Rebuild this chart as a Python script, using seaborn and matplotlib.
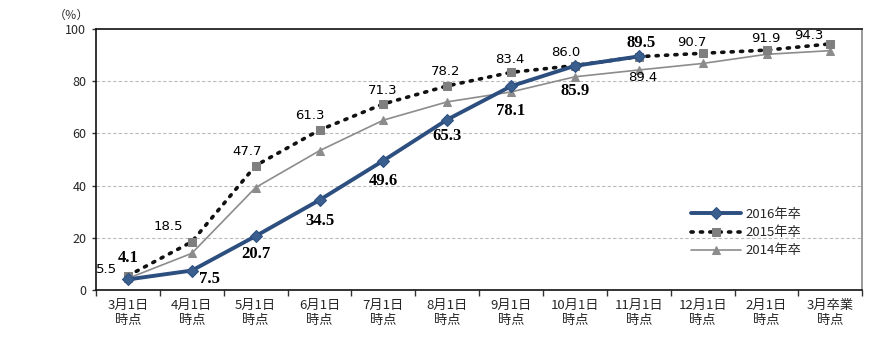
import matplotlib
matplotlib.use("Agg")
import matplotlib.pyplot as plt
import seaborn as sns
import pandas as pd
import numpy as np

categories = ["3月1日\n時点", "4月1日\n時点", "5月1日\n時点", "6月1日\n時点", "7月1日\n時点",
              "8月1日\n時点", "9月1日\n時点", "10月1日\n時点", "11月1日\n時点", "12月1日\n時点",
              "2月1日\n時点", "3月卒業\n時点"]
s2016 = [4.1, 7.5, 20.7, 34.5, 49.6, 65.3, 78.1, 85.9, 89.5]
s2015 = [5.5, 18.5, 47.7, 61.3, 71.3, 78.2, 83.4, 86.0, 89.4, 90.7, 91.9, 94.3]
s2014 = [4.5, 14.1, 39.3, 53.4, 65.1, 72.1, 75.9, 81.7, 84.3, 86.8, 90.3, 91.7]
yticks = [0, 20, 40, 60, 80, 100]

sns.set_theme(style="white")
plt.rcParams['font.family'] = ['Noto Sans CJK JP', 'DejaVu Sans']

fig = plt.figure(figsize=(8.89, 3.45), dpi=100)
ax = fig.add_axes([0.108, 0.159, 0.862, 0.757])

df14 = pd.DataFrame({"x": np.arange(len(s2014)), "v": s2014})
df15 = pd.DataFrame({"x": np.arange(len(s2015)), "v": s2015})
df16 = pd.DataFrame({"x": np.arange(len(s2016)), "v": s2016})

navy = "#2C4F80"
sns.lineplot(data=df14, x="x", y="v", ax=ax, color="#8C8C8C", lw=1.2, marker="^",
             markersize=6, markeredgecolor="#8C8C8C", label="2014年卒", zorder=2)
sns.lineplot(data=df15, x="x", y="v", ax=ax, color="#111111", lw=2.6, marker="s",
             markersize=5.5, markerfacecolor="#7F7F7F", markeredgecolor="#7F7F7F",
             label="2015年卒", zorder=3)
ax.lines[-1].set_linestyle((0, (0.6, 2.0)))
ax.lines[-1].set_dash_capstyle("round")
sns.lineplot(data=df16, x="x", y="v", ax=ax, color=navy, lw=2.8, marker="D",
             markersize=6.5, markerfacecolor="#3A5F8F", markeredgecolor=navy,
             label="2016年卒", zorder=4)

ax.set_xlim(-0.5, len(categories) - 0.5)
ax.set_ylim(0, 100)
ax.set_yticks(yticks)
ax.set_yticklabels([str(v) for v in yticks], fontsize=9)
ax.set_xticks(np.arange(len(categories)))
ax.set_xticklabels(categories, fontsize=9.5, linespacing=1.3)
ax.set_xticks(np.arange(len(categories) + 1) - 0.5, minor=True)
ax.tick_params(axis="x", which="major", length=0, pad=6)
ax.tick_params(axis="x", which="minor", length=4, width=1, color="#333333", direction="out", bottom=True)
ax.tick_params(axis="y", which="major", length=3, width=1, color="#333333", direction="out", left=True, pad=4)
ax.set_xlabel("")
ax.set_ylabel("")
for y in [20, 40, 60, 80]:
    ax.axhline(y, color="#BBBBBB", lw=0.8, ls=(0, (3, 2)), zorder=1)
for side in ["left", "bottom", "top"]:
    ax.spines[side].set_color("#111111")
    ax.spines[side].set_linewidth(1.2)
ax.spines["right"].set_color("#888888")
ax.spines["right"].set_linewidth(1.2)

fig.text(0.080, 0.955, "（％）", fontsize=8.5, ha="center", va="center")

# labels 2016 (offsets in pixels)
bold = dict(fontsize=12, fontweight="bold", family="Liberation Serif", color="#000000")
off16 = {0: (0, 21), 1: (18, -8), 2: (0, -18), 3: (0, -21), 4: (0, -20), 5: (0, -16),
         6: (0, -25), 7: (0, -25), 8: (2, 13)}
for i, v in enumerate(s2016):
    dx, dy = off16[i]
    ax.annotate(f"{v:.1f}", (i, v), xytext=(dx * 0.72, dy * 0.72), textcoords="offset points",
                ha="center", va="center", zorder=6, **bold)
# labels 2015
reg = dict(fontsize=9.5, color="#000000", family="DejaVu Sans")
off15 = {0: (-21, 6), 1: (-23, 15), 2: (-9, 14), 3: (-10, 15), 4: (-1, 13), 5: (-2, 14),
         6: (-1, 13), 7: (-9, 13), 8: (4, -21), 9: (-11, 11), 10: (-1, 12), 11: (-22, 8)}
for i, v in enumerate(s2015):
    dx, dy = off15[i]
    ax.annotate(f"{v:.1f}", (i, v), xytext=(dx * 0.72, dy * 0.72), textcoords="offset points",
                ha="center", va="center", zorder=6, **reg)

handles, labels = ax.get_legend_handles_labels()
order = [labels.index(l) for l in ["2016年卒", "2015年卒", "2014年卒"]]
ax.legend([handles[k] for k in order], [labels[k] for k in order], frameon=False,
          loc="upper left", bbox_to_anchor=(0.77, 0.335), fontsize=9.5,
          handlelength=3.8, handletextpad=0.3, labelspacing=0.4, borderaxespad=0)

fig.savefig("out.png", dpi=100)
